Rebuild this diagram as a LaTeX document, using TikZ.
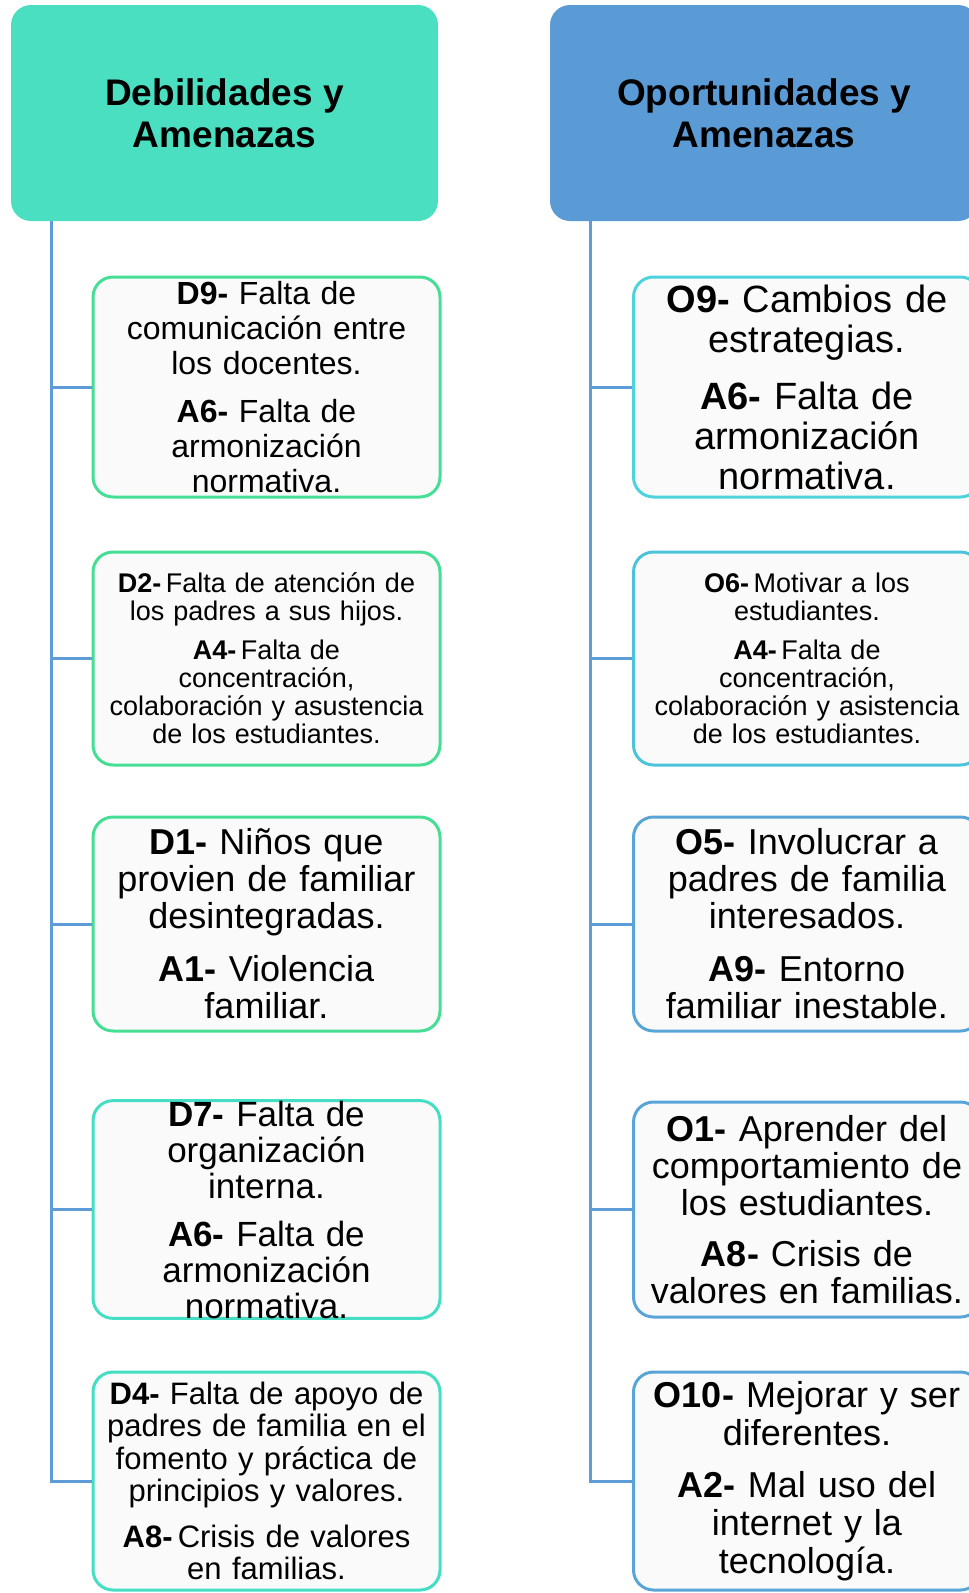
\documentclass[tikz,border=0pt]{standalone}
\usepackage{fontspec}
\setmainfont{Liberation Sans}
\usepackage{xcolor}
\usetikzlibrary{positioning}
\definecolor{headgreen}{HTML}{4ADFC0}
\definecolor{headblue}{HTML}{5B9BD5}
\definecolor{linkblue}{HTML}{5E9CD8}
\definecolor{boxgreen}{HTML}{45DE94}
\definecolor{boxteal}{HTML}{45DDC4}
\definecolor{boxcyan}{HTML}{4CD3DD}
\definecolor{boxcyanb}{HTML}{4BC3DA}
\definecolor{boxblue}{HTML}{5AA5D8}
\newcommand{\boxfont}[2]{\fontsize{#1}{#2}\selectfont}
\tikzset{
    %Define style for the two headers
    header/.style={
           rectangle,
           rounded corners=20pt,
           minimum width=427pt,
           minimum height=216pt,
           inner sep=0pt,
           align=center,
           font=\bfseries\boxfont{37}{42}},
    %Define style for boxes
    item/.style={
           rectangle,
           rounded corners=20pt,
           line width=3pt,
           fill=black!2,
           minimum width=347pt,
           inner sep=0pt,
           text width=345pt,
           align=center},
    % Define connector style
    conn/.style={
           draw=linkblue,
           line width=3pt}
}

\begin{document}
\begin{tikzpicture}[x=1pt,y=-1pt]
\useasboundingbox (0,0) rectangle (969,1593);
\clip (0,0) rectangle (969,1593);
 %headers
\node[header, fill=headgreen](hdl) at (224.5,113){Debilidades y\\Amenazas};
\node[header, fill=headblue, minimum width=428pt](hdr) at (764,113){Oportunidades y\\Amenazas};
 %left column
\node[item, draw=boxgreen, minimum height=220pt, font=\boxfont{32}{35}](d9) at (266.5,387)
  {\textbf{D9-} Falta de\\comunicación entre\\los docentes.\\[13pt]\textbf{A6-} Falta de\\armonización\\normativa.};
\node[item, draw=boxgreen, minimum height=213pt, font=\boxfont{27}{28}](d2) at (266.5,658.5)
  {\textbf{D2-}\,Falta de atención de\\los padres a sus hijos.\\[11pt]\textbf{A4-}\,Falta de\\concentración,\\colaboración y asustencia\\de los estudiantes.};
\node[item, draw=boxgreen, minimum height=214pt, font=\boxfont{36}{37}](d1) at (266.5,924)
  {\textbf{D1-} Niños que\\provien de familiar\\desintegradas.\\[16pt]\textbf{A1-} Violencia\\familiar.};
\node[item, draw=boxteal, minimum height=215pt, font=\boxfont{35}{36}](d7) at (266.5,1209.5)
  {\textbf{D7-} Falta de\\organización\\interna.\\[12pt]\textbf{A6-} Falta de\\armonización\\normativa.};
\node[item, draw=boxteal, minimum height=218pt, font=\boxfont{31}{32.5}](d4) at (266.5,1481)
  {\textbf{D4-} Falta de apoyo de\\padres de familia en el\\fomento y práctica de\\principios y valores.\\[13pt]\textbf{A8-}\,Crisis de valores\\en familias.};
 %right column
\node[item, draw=boxcyan, minimum height=220pt, font=\boxfont{38}{40}](o9) at (807,387)
  {\textbf{O9-} Cambios de\\estrategias.\\[17pt]\textbf{A6-} Falta de\\armonización\\normativa.};
\node[item, draw=boxcyanb, minimum height=213pt, font=\boxfont{27}{28}](o6) at (807,658.5)
  {\textbf{O6-}\,Motivar a los\\estudiantes.\\[11pt]\textbf{A4-}\,Falta de\\concentración,\\colaboración y asistencia\\de los estudiantes.};
\node[item, draw=boxblue, minimum height=214pt, font=\boxfont{36}{37}](o5) at (807,924)
  {\textbf{O5-} Involucrar a\\padres de familia\\interesados.\\[16pt]\textbf{A9-} Entorno\\familiar inestable.};
\node[item, draw=boxblue, minimum height=215pt, font=\boxfont{36}{37}](o1) at (807,1209.5)
  {\textbf{O1-} Aprender del\\comportamiento de\\los estudiantes.\\[14pt]\textbf{A8-} Crisis de\\valores en familias.};
\node[item, draw=boxblue, minimum height=218pt, font=\boxfont{36}{38}](o10) at (807,1481)
  {\textbf{O10-} Mejorar y ser\\diferentes.\\[14pt]\textbf{A2-} Mal uso del\\internet y la\\tecnología.};
 %connectors
\foreach \n in {d9,d2,d1,d7,d4}
  \draw[conn] ([xshift=41pt]hdl.south west) |- (\n.west);
\foreach \n in {o9,o6,o5,o1,o10}
  \draw[conn] ([xshift=41pt]hdr.south west) |- (\n.west);
\end{tikzpicture}
\end{document}
